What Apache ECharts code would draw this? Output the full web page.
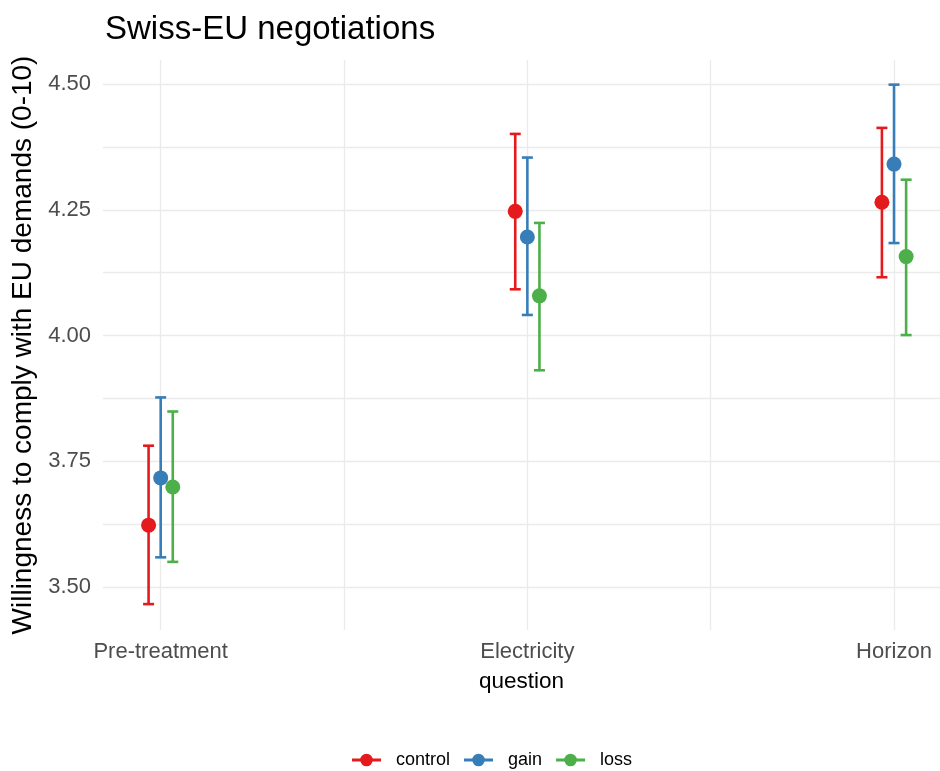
<!DOCTYPE html>
<html>
<head>
<meta charset="utf-8">
<script src="https://cdn.jsdelivr.net/npm/echarts@6/dist/echarts.min.js"></script>
<style>
  html, body { margin: 0; padding: 0; background: #ffffff; }
  #chart { width: 940px; height: 771px; }
</style>
</head>
<body>
<div id="chart"></div>
<script>
// Questions on the x axis
const categories = ['Pre-treatment', 'Electricity', 'Horizon'];
const groups = ['control', 'gain', 'loss'];

// Mean willingness and 95% interval per question
const controlMean = [3.623, 4.247, 4.265];
const controlLow  = [3.466, 4.092, 4.116];
const controlHigh = [3.781, 4.401, 4.413];

const gainMean = [3.717, 4.196, 4.341];
const gainLow  = [3.559, 4.041, 4.184];
const gainHigh = [3.877, 4.354, 4.499];

const lossMean = [3.699, 4.079, 4.157];
const lossLow  = [3.550, 3.931, 4.001];
const lossHigh = [3.849, 4.224, 4.310];

const yTicks = [3.50, 3.75, 4.00, 4.25, 4.50];
const yGrid = [3.50, 3.625, 3.75, 3.875, 4.00, 4.125, 4.25, 4.375, 4.50];

const colors = { control: '#E41A1C', gain: '#377EB8', loss: '#4DAF4A' };
const dodge = { control: -0.033, gain: 0, loss: 0.033 };
const FONT = 'Liberation Sans, Arial, sans-serif';

function rows(mean, low, high) {
  return categories.map((c, i) => [i + 1, mean[i], low[i], high[i]]);
}

// Point with vertical error bar and caps, dodged within each question
function renderer(offset, color) {
  return function (params, api) {
    const x = api.value(0) + offset;
    const mid = api.coord([x, api.value(1)]);
    const lo = api.coord([x, api.value(2)]);
    const hi = api.coord([x, api.value(3)]);
    const cap = 5.5;
    const ls = { stroke: color, lineWidth: 2.6 };
    return {
      type: 'group',
      children: [
        { type: 'line', shape: { x1: lo[0], y1: lo[1], x2: hi[0], y2: hi[1] }, style: ls },
        { type: 'line', shape: { x1: lo[0] - cap, y1: lo[1], x2: lo[0] + cap, y2: lo[1] }, style: ls },
        { type: 'line', shape: { x1: hi[0] - cap, y1: hi[1], x2: hi[0] + cap, y2: hi[1] }, style: ls },
        { type: 'circle', shape: { cx: mid[0], cy: mid[1], r: 7.5 }, style: { fill: color } }
      ]
    };
  };
}

const seriesData = {
  control: rows(controlMean, controlLow, controlHigh),
  gain: rows(gainMean, gainLow, gainHigh),
  loss: rows(lossMean, lossLow, lossHigh)
};

const legendIcon = 'path://M0,8.5L30,8.5L30,11.5L0,11.5Z M8.5,10A6.5,6.5 0 1 1 21.5,10A6.5,6.5 0 1 1 8.5,10Z';

const chart = echarts.init(document.getElementById('chart'), null, { renderer: 'canvas' });
chart.setOption({
  animation: false,
  backgroundColor: '#ffffff',
  title: {
    text: 'Swiss-EU negotiations',
    left: 100,
    top: 8,
    textStyle: { fontFamily: FONT, fontSize: 33, fontWeight: 'normal', color: '#000000' }
  },
  legend: {
    top: 746,
    left: 347,
    itemWidth: 29,
    itemHeight: 20,
    itemGap: 14,
    data: groups.map(g => ({ name: g, icon: legendIcon, itemStyle: { color: colors[g] } })),
    textStyle: { fontFamily: FONT, fontSize: 18, color: '#000000', padding: [0, 0, 0, 10] }
  },
  grid: { left: 103, right: 0, top: 60, bottom: 141, containLabel: false },
  xAxis: {
    type: 'value',
    min: 0.8427,
    max: 3.1254,
    name: 'question',
    nameLocation: 'middle',
    nameGap: 40,
    nameTextStyle: { fontFamily: FONT, fontSize: 22.5, color: '#000000' },
    axisLine: { show: false },
    axisTick: { show: false, customValues: [1, 1.5, 2, 2.5, 3] },
    axisLabel: {
      customValues: [1, 2, 3],
      formatter: v => categories[Math.round(v) - 1] || '',
      margin: 11,
      fontFamily: FONT, fontSize: 22, color: '#4D4D4D'
    },
    splitLine: { show: true, lineStyle: { color: '#EBEBEB', width: 1.3 } }
  },
  yAxis: {
    type: 'value',
    min: 3.4145,
    max: 4.548,
    name: 'Willingness to comply with EU demands (0-10)',
    nameLocation: 'middle',
    nameRotate: 90,
    nameGap: 60,
    nameTextStyle: { fontFamily: FONT, fontSize: 28, color: '#000000' },
    axisLine: { show: false },
    axisTick: { show: false, customValues: yGrid },
    axisLabel: {
      customValues: yTicks,
      formatter: v => v.toFixed(2),
      margin: 12,
      fontFamily: FONT, fontSize: 22, color: '#4D4D4D'
    },
    splitLine: { show: true, lineStyle: { color: '#EBEBEB', width: 1.3 } }
  },
  series: groups.map(g => ({
    name: g,
    type: 'custom',
    renderItem: renderer(dodge[g], colors[g]),
    encode: { x: 0, y: [1, 2, 3] },
    itemStyle: { color: colors[g] },
    data: seriesData[g]
  }))
});
</script>
</body>
</html>
